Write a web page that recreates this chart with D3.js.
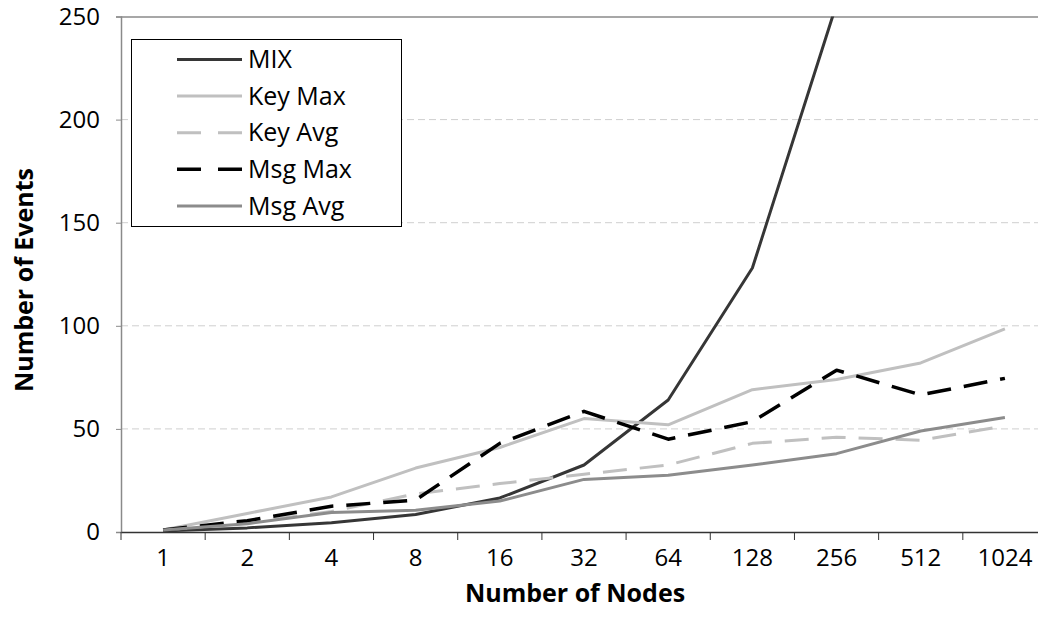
<!DOCTYPE html>
<html>
<head>
<meta charset="utf-8">
<script src="https://cdnjs.cloudflare.com/ajax/libs/d3/7.8.5/d3.min.js"></script>
<style>
  body { margin: 0; background: #fff; }
  text { font-family: "Open Sans", sans-serif; fill: #000; }
</style>
</head>
<body>
<div id="chart-area"></div>
<script>
// data
var nodes = ["1", "2", "4", "8", "16", "32", "64", "128", "256", "512", "1024"];
var mix    = [0.5, 2, 4.5, 8.5, 16.5, 32.5, 64, 128, 256, null, null];
var keyMax = [1, 9, 17, 31, 41, 55, 52, 69, 74, 82, 98.5];
var keyAvg = [1, 4.5, 10, 18.5, 23.5, 28, 32.5, 43, 46, 44.5, 51.5];
var msgMax = [1, 5.5, 12.5, 15.5, 43, 58.5, 45, 53.5, 78.5, 66.5, 74.5];
var msgAvg = [1, 4, 9.5, 10.5, 15, 25.5, 27.5, 32.5, 38, 49, 55.5];
var yTicks = [0, 50, 100, 150, 200, 250];

var series = [
  {name: "MIX",     values: mix,    color: "#363636", width: 3,   dash: null},
  {name: "Key Max", values: keyMax, color: "#c0c0c0", width: 3,   dash: null},
  {name: "Key Avg", values: keyAvg, color: "#c0c0c0", width: 3,   dash: "24,13"},
  {name: "Msg Max", values: msgMax, color: "#000000", width: 3.5, dash: "24,13"},
  {name: "Msg Avg", values: msgAvg, color: "#8c8c8c", width: 3,   dash: null}
];

var margin = {left: 121, right: 0, top: 16.5, bottom: 93};
var width = 926;
var height = 625 - margin.top - margin.bottom;

var svg = d3.select("#chart-area")
  .append("svg")
  .attr("width", 1038)
  .attr("height", 625);

var g = svg.append("g")
  .attr("transform", "translate(" + margin.left + "," + margin.top + ")");

var x = d3.scaleBand().domain(nodes).range([0, width]);
var y = d3.scaleLinear().domain([0, 250]).range([height, 0]);

svg.append("defs").append("clipPath").attr("id", "plot-clip")
  .append("rect").attr("x", 0).attr("y", 0).attr("width", width).attr("height", height);

// gridlines
g.selectAll(".grid")
  .data(yTicks.filter(d => d > 0 && d < 250))
  .enter().append("line")
  .attr("class", "grid")
  .attr("x1", 0).attr("x2", width)
  .attr("y1", d => y(d)).attr("y2", d => y(d))
  .attr("stroke", "#cfcfcf")
  .attr("stroke-width", 1)
  .attr("stroke-dasharray", "7,4");

// plot border top
g.append("line")
  .attr("x1", 0).attr("x2", width)
  .attr("y1", 0.5).attr("y2", 0.5)
  .attr("stroke", "#8a8a8a").attr("stroke-width", 1.5);

// y axis
var yAxis = g.append("g")
  .call(d3.axisLeft(y).tickValues(yTicks).tickSize(5).tickPadding(16));
yAxis.select(".domain").attr("stroke", "#8a8a8a").attr("stroke-width", 1.5);
yAxis.selectAll(".tick line").attr("stroke", "#8a8a8a");
yAxis.selectAll("text").attr("font-size", "24px").style("font-family", "'Open Sans', sans-serif");

// x axis
var xAxis = g.append("g")
  .attr("transform", "translate(0," + height + ")")
  .call(d3.axisBottom(x).tickSizeInner(0).tickSizeOuter(0).tickPadding(17));
xAxis.select(".domain").attr("stroke", "#333").attr("stroke-width", 1.5);
xAxis.selectAll("text").attr("font-size", "24px").style("font-family", "'Open Sans', sans-serif");

// category boundary ticks
g.selectAll(".xtick")
  .data(nodes)
  .enter().append("line")
  .attr("class", "xtick")
  .attr("x1", d => x(d)).attr("x2", d => x(d))
  .attr("y1", height).attr("y2", height + 8)
  .attr("stroke", "#333").attr("stroke-width", 1);

// lines
var line = d3.line()
  .defined(d => d.v != null)
  .x(d => x(d.n) + x.bandwidth() / 2)
  .y(d => y(d.v));

g.append("g").attr("clip-path", "url(#plot-clip)")
  .selectAll("path")
  .data(series)
  .enter().append("path")
  .attr("fill", "none")
  .attr("stroke", d => d.color)
  .attr("stroke-width", d => d.width)
  .attr("stroke-dasharray", d => d.dash)
  .attr("stroke-linejoin", "round")
  .attr("d", d => line(d.values.map((v, i) => ({n: nodes[i], v: v}))));

// axis titles
svg.append("text")
  .attr("x", 575).attr("y", 602)
  .attr("text-anchor", "middle")
  .attr("font-size", "25px").attr("font-weight", "bold")
  .text("Number of Nodes");

svg.append("text")
  .attr("transform", "translate(33,280) rotate(-90)")
  .attr("text-anchor", "middle")
  .attr("font-size", "25px").attr("font-weight", "bold")
  .text("Number of Events");

// legend
var legend = svg.append("g").attr("transform", "translate(131,39)");
legend.append("rect")
  .attr("x", 0.5).attr("y", 0.5)
  .attr("width", 270).attr("height", 187)
  .attr("fill", "#fff").attr("stroke", "#000").attr("stroke-width", 1);

var items = legend.selectAll(".item")
  .data(series)
  .enter().append("g")
  .attr("class", "item")
  .attr("transform", (d, i) => "translate(0," + (20.5 + i * 36.6) + ")");

items.append("line")
  .attr("x1", 46).attr("x2", 111)
  .attr("stroke", d => d.color)
  .attr("stroke-width", d => d.width)
  .attr("stroke-dasharray", d => d.dash ? "24,17" : null);

items.append("text")
  .attr("x", 117).attr("dy", "0.35em")
  .attr("font-size", "25px")
  .text(d => d.name);
</script>
</body>
</html>
